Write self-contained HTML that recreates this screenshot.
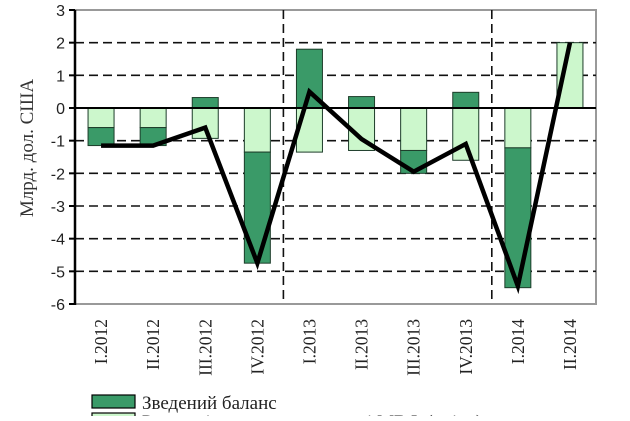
<!DOCTYPE html>
<html><head><meta charset="utf-8"><style>
body{margin:0;background:#fff;width:630px;height:416px;overflow:hidden}
</style></head><body>
<svg width="630" height="416" xmlns="http://www.w3.org/2000/svg">
<g id="plot"></g>
</svg>
<script>
const categories=["I.2012","II.2012","III.2012","IV.2012","I.2013","II.2013","III.2013","IV.2013","I.2014","II.2014"];
const darkValues=[-0.55,-0.55,0.32,-3.4,1.8,0.35,-0.7,0.48,-4.28,0];
const lightValues=[-0.6,-0.6,-0.93,-1.35,-1.35,-1.3,-1.3,-1.6,-1.22,2.0];
const lineValues=[-1.15,-1.15,-0.6,-4.75,0.5,-0.95,-1.95,-1.1,-5.45,2.0];
const yTicks=[3,2,1,0,-1,-2,-3,-4,-5,-6];
const NS="http://www.w3.org/2000/svg";
const g=document.getElementById('plot');
const L=75,R=596,T=10,B=304,ymax=3,ymin=-6;
const y=v=>T+(ymax-v)/(ymax-ymin)*(B-T);
const bw=(R-L)/categories.length;
const xc=i=>L+bw*(i+0.5);
function mk(t,a){const e=document.createElementNS(NS,t);for(const k in a)e.setAttribute(k,a[k]);g.appendChild(e);return e;}
let e=mk('path',{d:`M${L} ${T}H${R}V${B}H${L}`,fill:'none',stroke:'#999','stroke-width':2});

yTicks.forEach(v=>{
 if(v!==0&&v!==ymax&&v!==ymin){e=mk('line',{x1:L,x2:R,y1:y(v),y2:y(v),stroke:'#111','stroke-width':1.6,'stroke-dasharray':'9,5'});
 }
 e=mk('line',{x1:L-6,x2:L,y1:y(v),y2:y(v),stroke:'#000','stroke-width':2});
 
 e=mk('text',{x:L-10,y:y(v)+6,'text-anchor':'end','font-family':'Liberation Sans, sans-serif','font-size':16,fill:'#222'});
 e.textContent=v;
});
[4,8].forEach(i=>{e=mk('line',{x1:L+bw*i,x2:L+bw*i,y1:T,y2:B,stroke:'#111','stroke-width':1.6,'stroke-dasharray':'9,5'});
 });
categories.forEach((c,i)=>{
 const x0=xc(i)-13;let pos=0,neg=0;
 [[lightValues[i],'#ccf7cc','bar-reserves'],[darkValues[i],'#3a9a68','bar-balance']].forEach(([v,col,nm])=>{
  if(v===0)return;let a,b;
  if(v>0){a=pos;b=pos+v;pos=b;}else{a=neg;b=neg+v;neg=b;}
  e=mk('rect',{x:x0,y:y(Math.max(a,b)),width:26,height:Math.abs(y(a)-y(b)),fill:col,stroke:'#1d3d2a','stroke-width':1});
  
 });
 e=mk('text',{transform:`translate(${xc(i)+6},319) rotate(-90)`,'text-anchor':'end','font-family':'Liberation Serif, serif','font-size':17.5,fill:'#222'});
 e.textContent=c;
});
e=mk('line',{x1:L,x2:R,y1:y(0),y2:y(0),stroke:'#000','stroke-width':2});

e=mk('line',{x1:L,x2:L,y1:T,y2:B+1,stroke:'#000','stroke-width':2.5});

e=mk('polyline',{points:lineValues.map((v,i)=>xc(i)+','+y(v)).join(' '),fill:'none',stroke:'#000','stroke-width':4.5,'stroke-linejoin':'miter'});

e=mk('text',{transform:'translate(33,148) rotate(-90)','text-anchor':'middle','font-family':'Liberation Serif, serif','font-size':19,fill:'#333'});
e.textContent='Млрд. дол. США';
e=mk('rect',{x:92,y:395,width:43,height:13,fill:'#3a9a68',stroke:'#000','stroke-width':1.2});

e=mk('text',{x:142,y:409,'font-family':'Liberation Serif, serif','font-size':19,fill:'#222'});
e.textContent='Зведений баланс';
e=mk('rect',{x:92,y:413,width:43,height:13,fill:'#ccf7cc',stroke:'#000','stroke-width':1.2});

e=mk('text',{x:142,y:428,'font-family':'Liberation Serif, serif','font-size':19,fill:'#222'});
e.textContent='Резервні активи та кредити і МВФ (зміна)';
</script>
</body></html>
